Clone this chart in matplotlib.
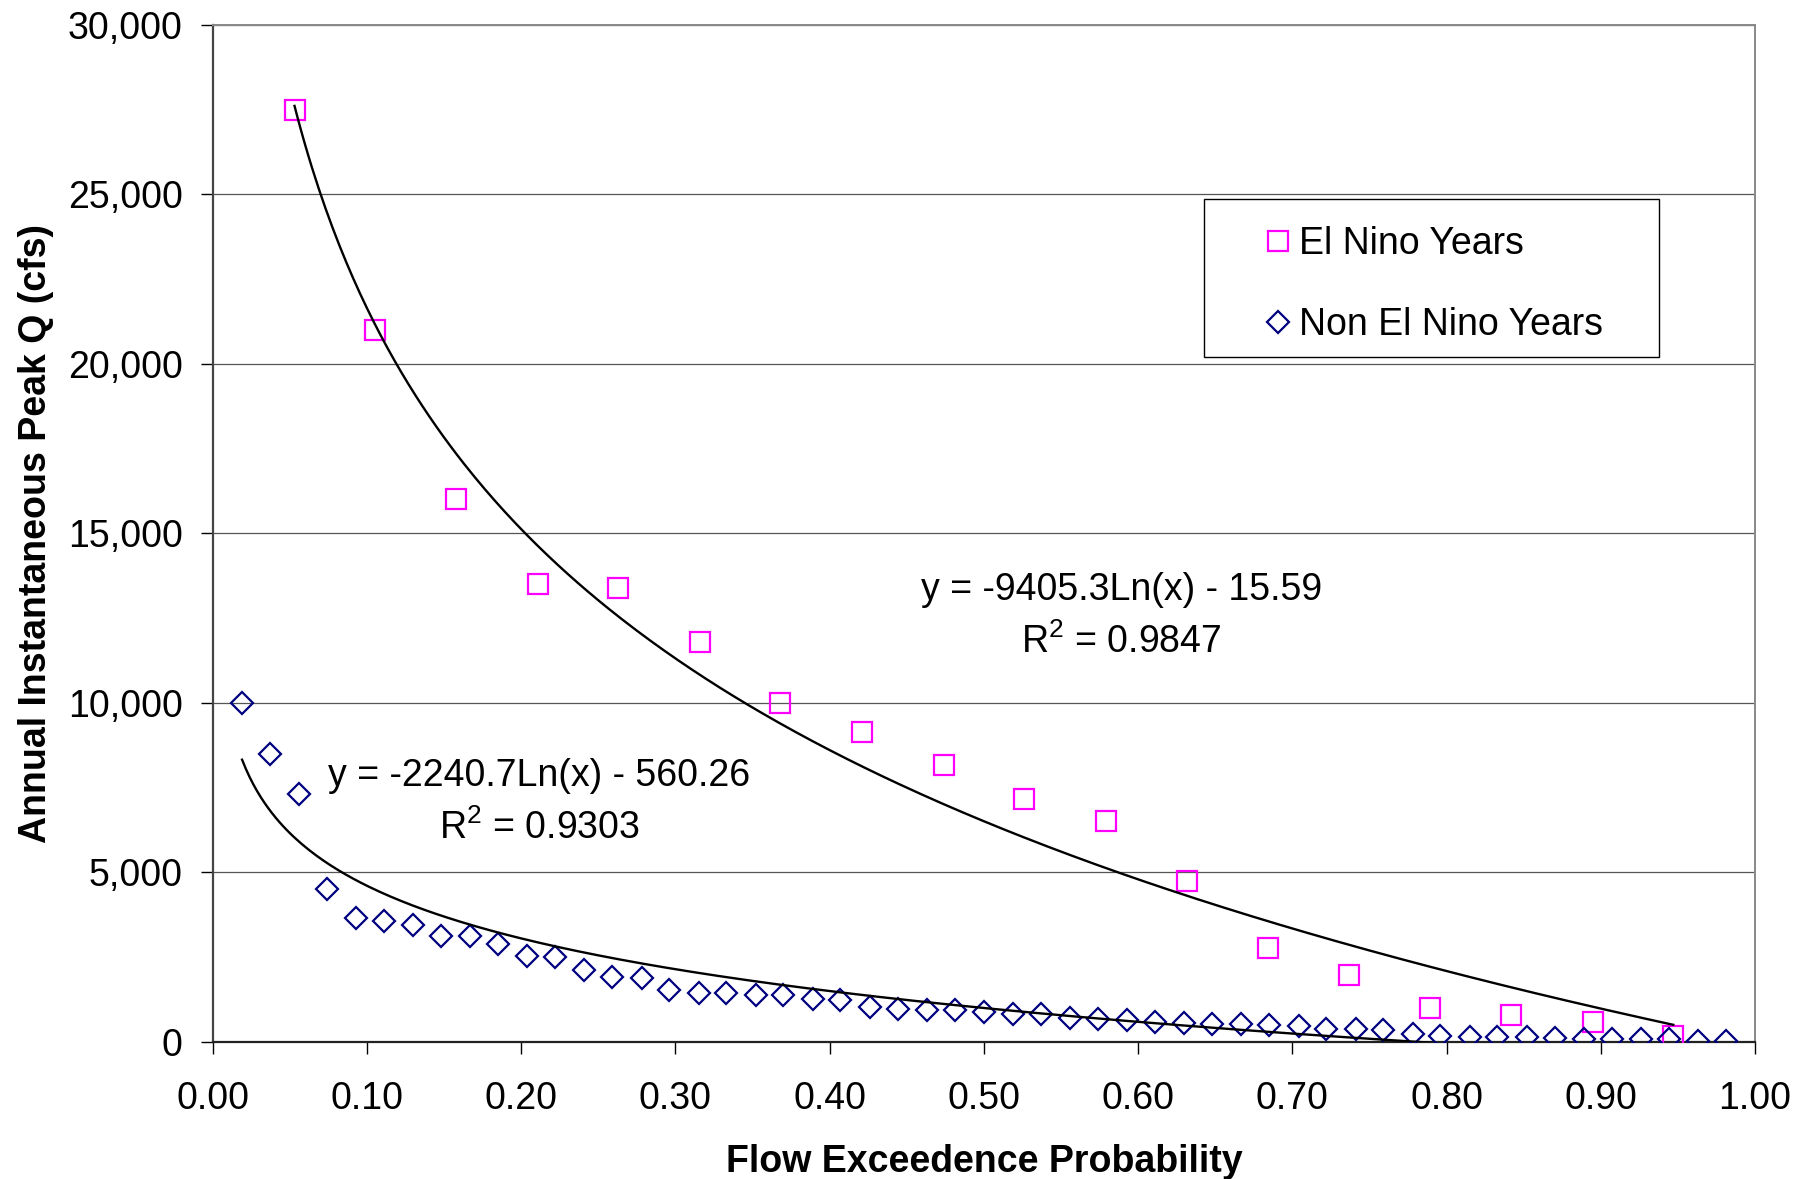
import numpy as np
import matplotlib.pyplot as plt
from matplotlib.ticker import FuncFormatter, MultipleLocator
from matplotlib.patches import Rectangle

plt.rcParams['font.family'] = ['Liberation Sans', 'DejaVu Sans']
plt.rcParams['mathtext.fontset'] = 'custom'
plt.rcParams['mathtext.rm'] = 'Liberation Sans'
plt.rcParams['mathtext.default'] = 'regular'

# probabilidad de excedencia y caudal pico (cfs)
p_nino = [0.053, 0.105, 0.158, 0.211, 0.263, 0.316, 0.368, 0.421, 0.474,
          0.526, 0.579, 0.632, 0.684, 0.737, 0.789, 0.842, 0.895, 0.947]
q_nino = [27500, 21000, 16000, 13500, 13400, 11800, 10000, 9150, 8150,
          7150, 6500, 4750, 2750, 1980, 980, 800, 590, 170]

p_otros = [0.019, 0.037, 0.056, 0.074, 0.093, 0.111, 0.130, 0.148, 0.167, 0.185,
           0.204, 0.222, 0.241, 0.259, 0.278, 0.296, 0.315, 0.333, 0.352, 0.370,
           0.389, 0.407, 0.426, 0.444, 0.463, 0.481, 0.500, 0.519, 0.537, 0.556,
           0.574, 0.593, 0.611, 0.630, 0.648, 0.667, 0.685, 0.704, 0.722, 0.741,
           0.759, 0.778, 0.796, 0.815, 0.833, 0.852, 0.870, 0.889, 0.907, 0.926,
           0.944, 0.963, 0.981]
q_otros = [10000, 8500, 7300, 4500, 3650, 3550, 3450, 3130, 3120, 2880,
           2520, 2490, 2120, 1900, 1890, 1520, 1450, 1440, 1390, 1380,
           1260, 1240, 1010, 970, 940, 920, 870, 820, 810, 710,
           670, 640, 590, 560, 530, 520, 500, 450, 380, 380,
           350, 220, 160, 150, 150, 130, 100, 75, 70, 70,
           70, 10, 5]

# ajustes logaritmicos y = a*ln(x) + b
a_nino, b_nino, r2_nino = -9405.3, -15.59, 0.9847
a_otros, b_otros, r2_otros = -2240.7, -560.26, 0.9303

fig = plt.figure(figsize=(18.14, 11.79), dpi=100)
ax = fig.add_axes([0.1173, 0.1165, 0.8502, 0.8623])

ax.plot(p_nino, q_nino, linestyle='none', marker='s', ms=14.5, mew=1.6,
        mfc='none', mec='#FF00FF', label='El Nino Years', zorder=3)
ax.plot(p_otros, q_otros, linestyle='none', marker='D', ms=11.5, mew=1.6,
        mfc='none', mec='#000080', label='Non El Nino Years', zorder=3)

xs = np.linspace(min(p_nino), max(p_nino), 400)
ax.plot(xs, a_nino * np.log(xs) + b_nino, color='black', lw=1.7, zorder=4)
xs = np.linspace(min(p_otros), max(p_otros), 400)
ax.plot(xs, a_otros * np.log(xs) + b_otros, color='black', lw=1.7, zorder=4)

ax.text(0.589, 0.4443, f'y = {a_nino}Ln(x) - {abs(b_nino)}', transform=ax.transAxes,
        ha='center', va='center', fontsize=27)
ax.text(0.589, 0.3932, f'R$^2$ = {r2_nino}', transform=ax.transAxes,
        ha='center', va='center', fontsize=27)
ax.text(0.2116, 0.2613, f'y = {a_otros}Ln(x) - {abs(b_otros)}', transform=ax.transAxes,
        ha='center', va='center', fontsize=27)
ax.text(0.2116, 0.2102, f'R$^2$ = {r2_otros}', transform=ax.transAxes,
        ha='center', va='center', fontsize=27)

ax.set_xlim(0, 1)
ax.set_ylim(0, 30000)
ax.xaxis.set_major_locator(MultipleLocator(0.1))
ax.yaxis.set_major_locator(MultipleLocator(5000))
ax.xaxis.set_major_formatter(FuncFormatter(lambda v, pos: f'{v:.2f}'))
ax.yaxis.set_major_formatter(FuncFormatter(lambda v, pos: f'{v:,.0f}'))
ax.tick_params(axis='x', direction='out', length=8.6, width=1, pad=20, labelsize=27)
ax.tick_params(axis='y', direction='out', length=8.6, width=1, pad=13, labelsize=27)
ax.grid(axis='y', color='#555555', lw=0.9, zorder=0)
ax.set_axisbelow(True)

ax.spines['left'].set_color('#444444')
ax.spines['left'].set_linewidth(1.6)
ax.spines['bottom'].set_color('#222222')
ax.spines['bottom'].set_linewidth(1.6)
ax.spines['top'].set_color('#888888')
ax.spines['top'].set_linewidth(1.4)
ax.spines['right'].set_color('#888888')
ax.spines['right'].set_linewidth(1.4)

ax.set_xlabel('Flow Exceedence Probability', fontsize=27, fontweight='bold')
ax.set_ylabel('Annual Instantaneous Peak Q (cfs)', fontsize=27, fontweight='bold')
ax.xaxis.set_label_coords(0.5, -0.101)
ax.yaxis.set_label_coords(-0.103, 0.5)

# leyenda con marco rectangular aparte
ax.add_patch(Rectangle((0.643, 0.673), 0.295, 0.156, transform=ax.transAxes,
                       facecolor='white', edgecolor='black', lw=1.0, zorder=5))
leg = ax.legend(loc='center left', bbox_to_anchor=(0.681, 0.7447), frameon=False,
                fontsize=27, borderpad=0, borderaxespad=0, handlelength=0.8,
                handletextpad=0.17, labelspacing=1.2)
leg.set_zorder(6)

fig.savefig('out.png', dpi=100)
